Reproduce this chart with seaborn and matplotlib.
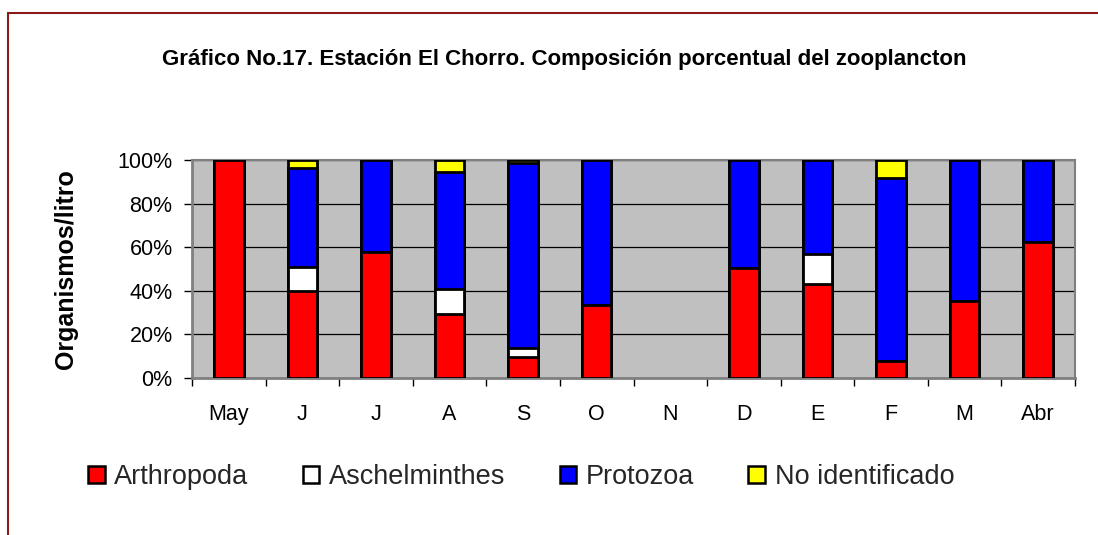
import numpy as np
import pandas as pd
import matplotlib
matplotlib.use("Agg")
import matplotlib.pyplot as plt
from matplotlib.patches import Patch
from matplotlib.lines import Line2D
from matplotlib.ticker import FixedLocator, FuncFormatter
import seaborn as sns

months = ["May", "J", "J ", "A", "S", "O", "N", "D", "E", "F", "M", "Abr"]
month_labels = ["May", "J", "J", "A", "S", "O", "N", "D", "E", "F", "M", "Abr"]
arthropoda = [100.0, 40.0, 57.6, 29.3, 9.8, 33.4, 0.0, 50.5, 42.9, 7.8, 35.3, 62.6]
aschelminthes = [0.0, 11.1, 0.0, 11.5, 3.8, 0.0, 0.0, 0.0, 14.2, 0.0, 0.0, 0.0]
protozoa = [0.0, 45.4, 42.4, 53.7, 85.2, 66.6, 0.0, 49.5, 42.9, 84.1, 64.7, 37.4]
no_identificado = [0.0, 3.5, 0.0, 5.5, 1.2, 0.0, 0.0, 0.0, 0.0, 8.1, 0.0, 0.0]

series_names = ["Arthropoda", "Aschelminthes", "Protozoa", "No identificado"]
series_colors = ["#FF0000", "#FFFFFF", "#0000FF", "#FFFF00"]

sns.set_theme(style="white")
plt.rcParams["font.family"] = ["Liberation Sans", "DejaVu Sans"]

fig = plt.figure(figsize=(10.98, 5.35), dpi=100)
ax = fig.add_axes([192 / 1098, 1 - 378 / 535, (1075 - 192) / 1098, (378 - 160) / 535])
ax.set_facecolor("#C0C0C0")

stack = np.vstack([arthropoda, aschelminthes, protozoa, no_identificado])
cum = np.cumsum(stack, axis=0)
# draw from top layer down so lower segments overlay
for i in range(3, -1, -1):
    vals = cum[i].astype(float).copy()
    vals[cum[3] == 0] = np.nan
    df = pd.DataFrame({"mes": months, "v": vals})
    sns.barplot(data=df, x="mes", y="v", order=months, color=series_colors[i],
                saturation=1, width=0.4, edgecolor="black", linewidth=2,
                ax=ax, zorder=3, errorbar=None)

ax.set_ylim(0, 100)
ax.set_xlim(-0.5, 11.5)
ax.set_yticks([0, 20, 40, 60, 80, 100])
ax.yaxis.set_major_formatter(FuncFormatter(lambda v, p: f"{int(v)}%"))
ax.yaxis.grid(True, color="black", linewidth=0.9, zorder=1)
ax.set_axisbelow(True)
ax.set_xticks(range(12))
ax.set_xticklabels(month_labels)
ax.xaxis.set_minor_locator(FixedLocator(np.arange(-0.5, 12, 1)))
ax.tick_params(axis="x", which="major", length=0, pad=19, labelsize=15.5, colors="black")
ax.tick_params(axis="x", which="minor", length=6, width=1, color="black", direction="out", bottom=True)
ax.tick_params(axis="y", which="major", length=6, width=1, color="black", direction="out",
               left=True, pad=8, labelsize=15.5, labelcolor="black")
ax.set_xlabel("")
ax.set_ylabel("")
for s in ["top", "right"]:
    ax.spines[s].set_color("#808080")
    ax.spines[s].set_linewidth(1.5)
for s in ["left", "bottom"]:
    ax.spines[s].set_color("#808080")
    ax.spines[s].set_linewidth(2)

fig.text(564 / 1098, 1 - 60 / 535,
         "Gráfico No.17. Estación El Chorro. Composición porcentual del zooplancton",
         ha="center", va="center", fontsize=16, fontweight="bold", color="black")
fig.text(66 / 1098, 1 - 269 / 535, "Organismos/litro", rotation=90,
         ha="center", va="center", fontsize=18, fontweight="bold", color="black")

handles = [Patch(facecolor=c, edgecolor="black", linewidth=1.8) for c in series_colors]
fig.legend(handles, series_names, loc="center left",
           bbox_to_anchor=(88 / 1098, 1 - 477 / 535), ncol=4, frameon=False,
           fontsize=19.5, handlelength=0.62, handleheight=0.62, handletextpad=0.35,
           columnspacing=2.0, borderpad=0, borderaxespad=0)

border_color = "#8B1A1A"
fig.add_artist(Line2D([8 / 1098, 1.0], [1 - 13 / 535, 1 - 13 / 535],
                      transform=fig.transFigure, color=border_color, linewidth=1.5))
fig.add_artist(Line2D([8 / 1098, 8 / 1098], [1 - 13 / 535, 0.0],
                      transform=fig.transFigure, color=border_color, linewidth=1.5))

fig.savefig("out.png", dpi=100, facecolor="white")
